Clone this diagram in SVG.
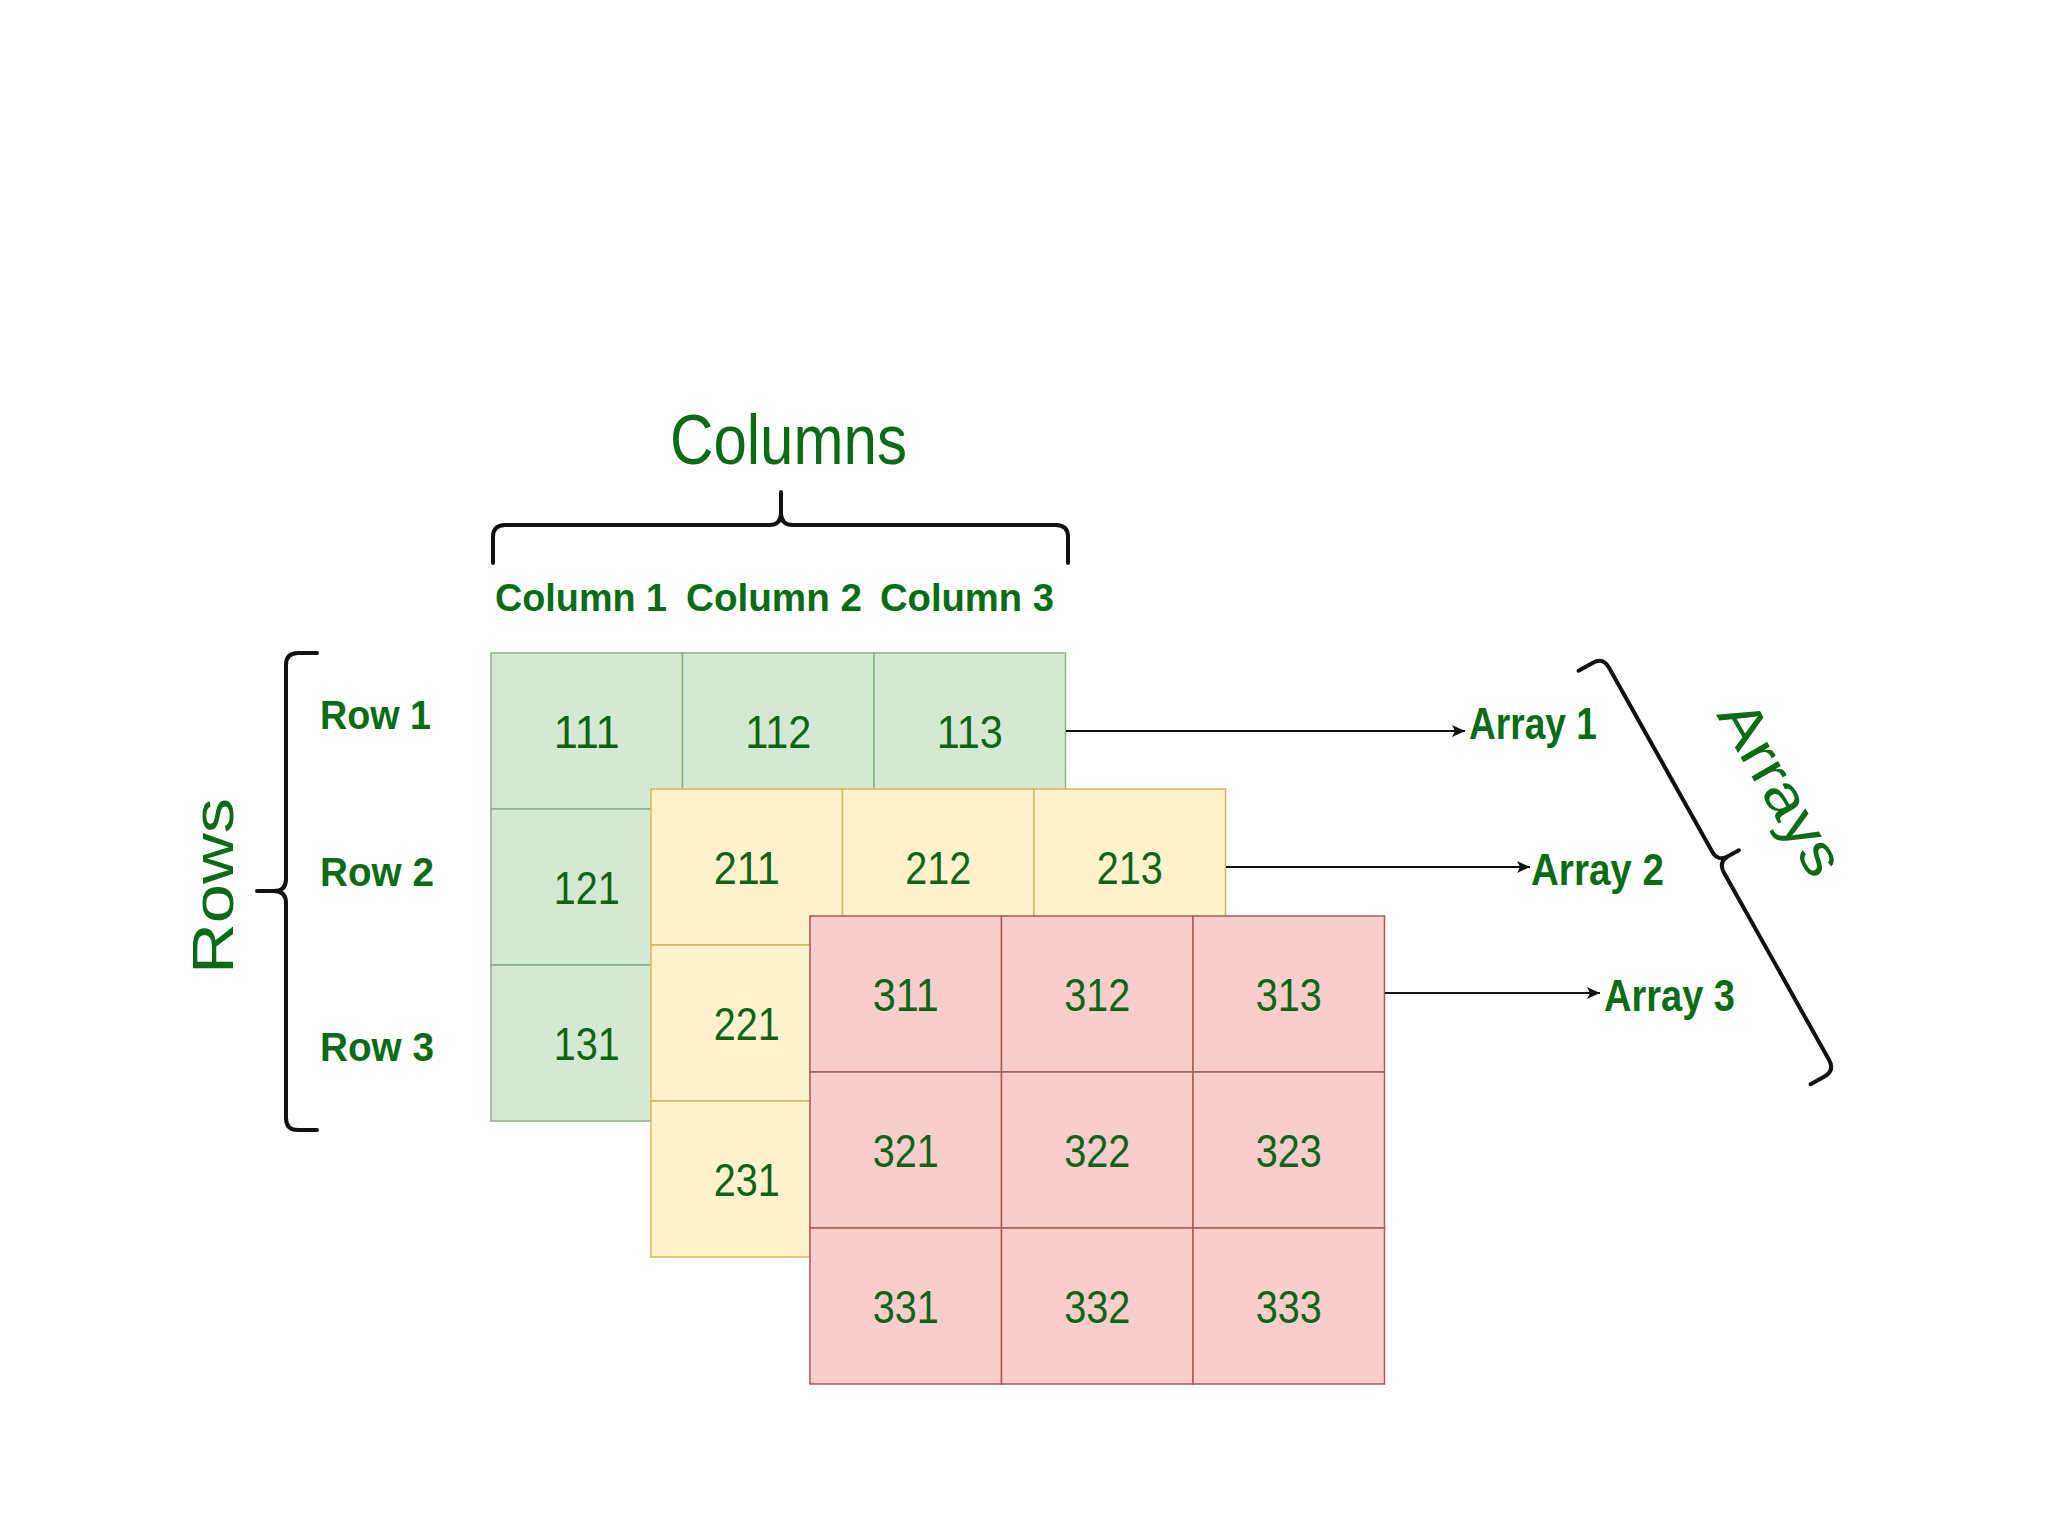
<svg xmlns="http://www.w3.org/2000/svg" width="2048" height="1536" viewBox="0 0 2048 1536">
<defs>
<style>
.g rect{fill:#d5e8d4;stroke:#8fb08a;stroke-width:1.5}
.y rect{fill:#fff2cc;stroke:#d6b656;stroke-width:1.5}
.r rect{fill:#f8cecc;stroke:#a85a58;stroke-width:1.5}
.num{font-family:"Liberation Sans",Arial,sans-serif;font-size:47px;fill:#0f6416}
.lbl{font-family:"Liberation Sans",Arial,sans-serif;font-weight:bold;fill:#0b6b17}
.big{font-family:"Liberation Sans",Arial,sans-serif;font-size:58px;fill:#0b6b17}
.brace{fill:none;stroke:#111;stroke-width:4;stroke-linecap:round;stroke-linejoin:round}
.arrow{fill:none;stroke:#111;stroke-width:2}
</style>
<marker id="ah" markerUnits="userSpaceOnUse" markerWidth="14" markerHeight="12" refX="13" refY="6" orient="auto">
<path d="M0,0 L13,6 L0,12 L3,6 Z" fill="#111"/>
</marker>
</defs>
<rect x="0" y="0" width="2048" height="1536" fill="#ffffff"/>

<!-- Array 1 (green) -->
<g id="cell-111" class="g"><rect x="491" y="653" width="191.5" height="156"/><text class="num" x="553.75" y="747.5" textLength="66" lengthAdjust="spacingAndGlyphs">111</text></g>
<g id="cell-112" class="g"><rect x="682.5" y="653" width="191.5" height="156"/><text class="num" x="745.25" y="747.5" textLength="66" lengthAdjust="spacingAndGlyphs">112</text></g>
<g id="cell-113" class="g"><rect x="874" y="653" width="191.5" height="156"/><text class="num" x="936.75" y="747.5" textLength="66" lengthAdjust="spacingAndGlyphs">113</text></g>
<g id="cell-121" class="g"><rect x="491" y="809" width="191.5" height="156"/><text class="num" x="553.75" y="903.5" textLength="66" lengthAdjust="spacingAndGlyphs">121</text></g>
<g id="cell-122" class="g"><rect x="682.5" y="809" width="191.5" height="156"/></g>
<g id="cell-123" class="g"><rect x="874" y="809" width="191.5" height="156"/></g>
<g id="cell-131" class="g"><rect x="491" y="965" width="191.5" height="156"/><text class="num" x="553.75" y="1059.5" textLength="66" lengthAdjust="spacingAndGlyphs">131</text></g>
<g id="cell-132" class="g"><rect x="682.5" y="965" width="191.5" height="156"/></g>
<g id="cell-133" class="g"><rect x="874" y="965" width="191.5" height="156"/></g>

<!-- Array 2 (yellow) -->
<g id="cell-211" class="y"><rect x="651" y="789" width="191.5" height="156"/><text class="num" x="713.75" y="883.5" textLength="66" lengthAdjust="spacingAndGlyphs">211</text></g>
<g id="cell-212" class="y"><rect x="842.5" y="789" width="191.5" height="156"/><text class="num" x="905.25" y="883.5" textLength="66" lengthAdjust="spacingAndGlyphs">212</text></g>
<g id="cell-213" class="y"><rect x="1034" y="789" width="191.5" height="156"/><text class="num" x="1096.75" y="883.5" textLength="66" lengthAdjust="spacingAndGlyphs">213</text></g>
<g id="cell-221" class="y"><rect x="651" y="945" width="191.5" height="156"/><text class="num" x="713.75" y="1039.5" textLength="66" lengthAdjust="spacingAndGlyphs">221</text></g>
<g id="cell-222" class="y"><rect x="842.5" y="945" width="191.5" height="156"/></g>
<g id="cell-223" class="y"><rect x="1034" y="945" width="191.5" height="156"/></g>
<g id="cell-231" class="y"><rect x="651" y="1101" width="191.5" height="156"/><text class="num" x="713.75" y="1195.5" textLength="66" lengthAdjust="spacingAndGlyphs">231</text></g>
<g id="cell-232" class="y"><rect x="842.5" y="1101" width="191.5" height="156"/></g>
<g id="cell-233" class="y"><rect x="1034" y="1101" width="191.5" height="156"/></g>

<!-- Array 3 (red) -->
<g id="cell-311" class="r"><rect x="810" y="916" width="191.5" height="156"/><text class="num" x="872.75" y="1010.5" textLength="66" lengthAdjust="spacingAndGlyphs">311</text></g>
<g id="cell-312" class="r"><rect x="1001.5" y="916" width="191.5" height="156"/><text class="num" x="1064.25" y="1010.5" textLength="66" lengthAdjust="spacingAndGlyphs">312</text></g>
<g id="cell-313" class="r"><rect x="1193" y="916" width="191.5" height="156"/><text class="num" x="1255.75" y="1010.5" textLength="66" lengthAdjust="spacingAndGlyphs">313</text></g>
<g id="cell-321" class="r"><rect x="810" y="1072" width="191.5" height="156"/><text class="num" x="872.75" y="1166.5" textLength="66" lengthAdjust="spacingAndGlyphs">321</text></g>
<g id="cell-322" class="r"><rect x="1001.5" y="1072" width="191.5" height="156"/><text class="num" x="1064.25" y="1166.5" textLength="66" lengthAdjust="spacingAndGlyphs">322</text></g>
<g id="cell-323" class="r"><rect x="1193" y="1072" width="191.5" height="156"/><text class="num" x="1255.75" y="1166.5" textLength="66" lengthAdjust="spacingAndGlyphs">323</text></g>
<g id="cell-331" class="r"><rect x="810" y="1228" width="191.5" height="156"/><text class="num" x="872.75" y="1322.5" textLength="66" lengthAdjust="spacingAndGlyphs">331</text></g>
<g id="cell-332" class="r"><rect x="1001.5" y="1228" width="191.5" height="156"/><text class="num" x="1064.25" y="1322.5" textLength="66" lengthAdjust="spacingAndGlyphs">332</text></g>
<g id="cell-333" class="r"><rect x="1193" y="1228" width="191.5" height="156"/><text class="num" x="1255.75" y="1322.5" textLength="66" lengthAdjust="spacingAndGlyphs">333</text></g>

<!-- Braces -->
<g id="brace-columns">
<path class="brace" d="M493,563 L493,537 Q493,525 505,525 L769,525 Q781,525 781,513 L781,492 M781,513 Q781,525 793,525 L1056,525 Q1068,525 1068,537 L1068,563"/>
</g>
<g id="brace-rows">
<path class="brace" d="M317,653 L298,653 Q286,653 286,665 L286,879 Q286,891 274,891 L257,891 M274,891 Q286,891 286,903 L286,1118 Q286,1130 298,1130 L317,1130"/>
</g>
<g id="brace-arrays">
<path class="brace" d="M1578.6,670.7 L1592.5,662.9 Q1603,657 1608.9,667.5 L1712.1,851.5 Q1718,862 1728.5,856.1 L1738.9,850.3 M1728.5,856.1 Q1718,862 1723.9,872.5 L1829.1,1060 Q1835,1070.5 1824.5,1076.4 L1810.6,1084.2"/>
</g>

<!-- Connectors -->
<g id="connectors">
<line class="arrow" x1="1066" y1="731" x2="1465" y2="731" marker-end="url(#ah)"/>
<line class="arrow" x1="1226" y1="867" x2="1530" y2="867" marker-end="url(#ah)"/>
<line class="arrow" x1="1385" y1="993" x2="1600" y2="993" marker-end="url(#ah)"/>
</g>

<!-- Labels -->
<g id="label-columns"><text x="670" y="464" font-family="Liberation Sans, Arial, sans-serif" font-size="71" fill="#0b6b17" textLength="237" lengthAdjust="spacingAndGlyphs">Columns</text></g>
<g id="label-column1"><text class="lbl" x="495" y="611" font-size="38" textLength="172" lengthAdjust="spacingAndGlyphs">Column 1</text></g>
<g id="label-column2"><text class="lbl" x="686" y="611" font-size="38" textLength="176" lengthAdjust="spacingAndGlyphs">Column 2</text></g>
<g id="label-column3"><text class="lbl" x="880" y="611" font-size="38" textLength="174" lengthAdjust="spacingAndGlyphs">Column 3</text></g>
<g id="label-rows"><text class="big" transform="translate(233,886) rotate(-90)" x="-88" y="0" textLength="176" lengthAdjust="spacingAndGlyphs">Rows</text></g>
<g id="label-row1"><text class="lbl" x="320" y="729" font-size="41" textLength="111" lengthAdjust="spacingAndGlyphs">Row 1</text></g>
<g id="label-row2"><text class="lbl" x="320" y="886" font-size="41" textLength="114" lengthAdjust="spacingAndGlyphs">Row 2</text></g>
<g id="label-row3"><text class="lbl" x="320" y="1061" font-size="41" textLength="114" lengthAdjust="spacingAndGlyphs">Row 3</text></g>
<g id="label-array1"><text class="lbl" x="1469" y="739" font-size="44" textLength="128" lengthAdjust="spacingAndGlyphs">Array 1</text></g>
<g id="label-array2"><text class="lbl" x="1531" y="885" font-size="44" textLength="133" lengthAdjust="spacingAndGlyphs">Array 2</text></g>
<g id="label-array3"><text class="lbl" x="1604" y="1011" font-size="44" textLength="131" lengthAdjust="spacingAndGlyphs">Array 3</text></g>
<g id="label-arrays"><text class="big" transform="translate(1764,798) rotate(60)" x="-96" y="0" textLength="192" lengthAdjust="spacingAndGlyphs">Arrays</text></g>
</svg>
